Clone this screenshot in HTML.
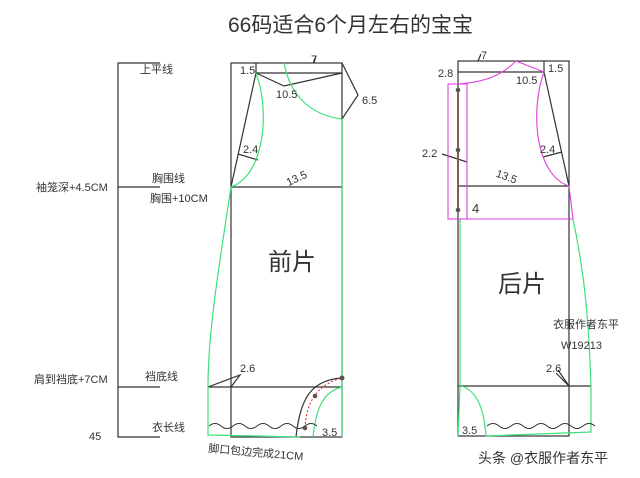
<!DOCTYPE html>
<html><head><meta charset="utf-8"><style>
body{margin:0;background:#fff}
svg{display:block}
text{font-family:"Liberation Sans","Noto Sans CJK SC",sans-serif;fill:#333}
</style></head><body>
<svg width="640" height="478" viewBox="0 0 640 478" xmlns="http://www.w3.org/2000/svg">
<text x="228" y="32" font-size="21" fill="#444">66码适合6个月左右的宝宝</text>
<g stroke="#333" stroke-width="1.2" fill="none">
<polyline points="160,63 118,63 118,437 160,437"/>
<line x1="118" y1="187" x2="160" y2="187"/>
<line x1="118" y1="387" x2="160" y2="387"/>
<rect x="231" y="63" width="111" height="374"/>
<line x1="256" y1="73" x2="342" y2="73"/>
<line x1="256" y1="63" x2="256" y2="73"/>
<polyline points="256,73 284,86 342,73"/>
<polyline points="342,63 358,95 342,119"/>
<line x1="256" y1="73" x2="231" y2="187"/>
<line x1="231" y1="187" x2="342" y2="187"/>
<line x1="238" y1="154" x2="258" y2="160"/>
<line x1="208" y1="387" x2="342" y2="387"/>
<polyline points="208,387 240,375 231,387"/>
<path d="M296,437 C300,400 310,380 342,378"/>
<rect x="458" y="61" width="111" height="375"/>
<line x1="458" y1="72" x2="544" y2="72"/>
<line x1="544" y1="61" x2="544" y2="72"/>
<line x1="544" y1="72" x2="569" y2="186"/>
<line x1="458" y1="186" x2="569" y2="186"/>
<line x1="543" y1="157" x2="562" y2="152"/>
<polyline points="442,154 467,162"/>
<line x1="458" y1="386" x2="591" y2="386"/>
<polyline points="558,370 569,386 556,373"/>
<line x1="481" y1="54" x2="478" y2="61"/>
<line x1="316" y1="56" x2="314" y2="63"/>
</g>
<g stroke="#3ee07a" stroke-width="1.2" fill="none">
<path d="M284,63 C290,95 310,115 342,119 L342,437"/>
<path d="M256,73 C270,110 265,175 231,187 C220,260 208,330 208,387 L208,435 L300,437"/>
<path d="M313,437 C316,410 322,392 342,387"/>
<path d="M462,386 C478,392 484,410 486,436 L591,432 L591,386 C589,330 586,280 573,219"/>
<path d="M460,219 L460,387 L458,436"/>
</g>
<g stroke="#e040e0" stroke-width="1.1" fill="none">
<path d="M458,84 C490,82 505,72 516,61 L544,72"/>
<path d="M544,72 C530,110 535,175 569,186 L573,219"/>
<rect x="448" y="84" width="19" height="135"/>
<line x1="448" y1="219" x2="573" y2="219"/>
</g>
<line x1="458" y1="90" x2="458" y2="210" stroke="#8a5a50" stroke-width="2"/>
<g fill="#555"><circle cx="458" cy="90" r="2.3"/><circle cx="458" cy="150" r="2.3"/><circle cx="458" cy="210" r="2.3"/>
<circle cx="342" cy="378" r="2.5"/><circle cx="315" cy="396" r="2.3"/><circle cx="305" cy="428" r="2.3"/></g>
<path d="M305,428 C306,405 315,385 342,378" stroke="#e02020" stroke-width="1" stroke-dasharray="2,2" fill="none"/>
<path d="M209,426 q6,-5 12,0 t12,0 t12,0 t12,0 t12,0 t12,0 t12,0 t12,0 t12,0" stroke="#333" fill="none"/>
<path d="M487,426 q6,-5 12,0 t12,0 t12,0 t12,0 t12,0 t12,0 t12,0 t12,0 t12,0" stroke="#333" fill="none"/>
<g font-size="11">
<text x="140" y="73">上平线</text>
<text x="36" y="191">袖笼深+4.5CM</text>
<text x="152" y="182">胸围线</text>
<text x="150" y="202">胸围+10CM</text>
<text x="34" y="383">肩到裆底+7CM</text>
<text x="145" y="380">裆底线</text>
<text x="152" y="431">衣长线</text>
<text x="89" y="440">45</text>
<text x="208" y="452" transform="rotate(5 208 452)">脚口包边完成21CM</text>
<text x="240" y="74">1.5</text>
<text x="311" y="63">7</text>
<text x="276" y="98">10.5</text>
<text x="362" y="104">6.5</text>
<text x="243" y="153">2.4</text>
<text x="286" y="185" transform="rotate(-25 290 180)">13.5</text>
<text x="240" y="372">2.6</text>
<text x="322" y="436">3.5</text>
<text x="438" y="77">2.8</text>
<text x="481" y="59">7</text>
<text x="548" y="72">1.5</text>
<text x="516" y="84">10.5</text>
<text x="422" y="157">2.2</text>
<text x="540" y="153">2.4</text>
<text x="496" y="178" transform="rotate(20 500 175)">13.5</text>
<text x="546" y="372">2.6</text>
<text x="462" y="434">3.5</text>
<text x="553" y="328">衣服作者东平</text>
<text x="561" y="349">W19213</text>
</g>
<text x="472" y="213" font-size="13">4</text>
<text x="268" y="270" font-size="24">前片</text>
<text x="498" y="292" font-size="24">后片</text>
<text x="478" y="463" font-size="14" fill="#333">头条 @衣服作者东平</text>
</svg>
</body></html>
